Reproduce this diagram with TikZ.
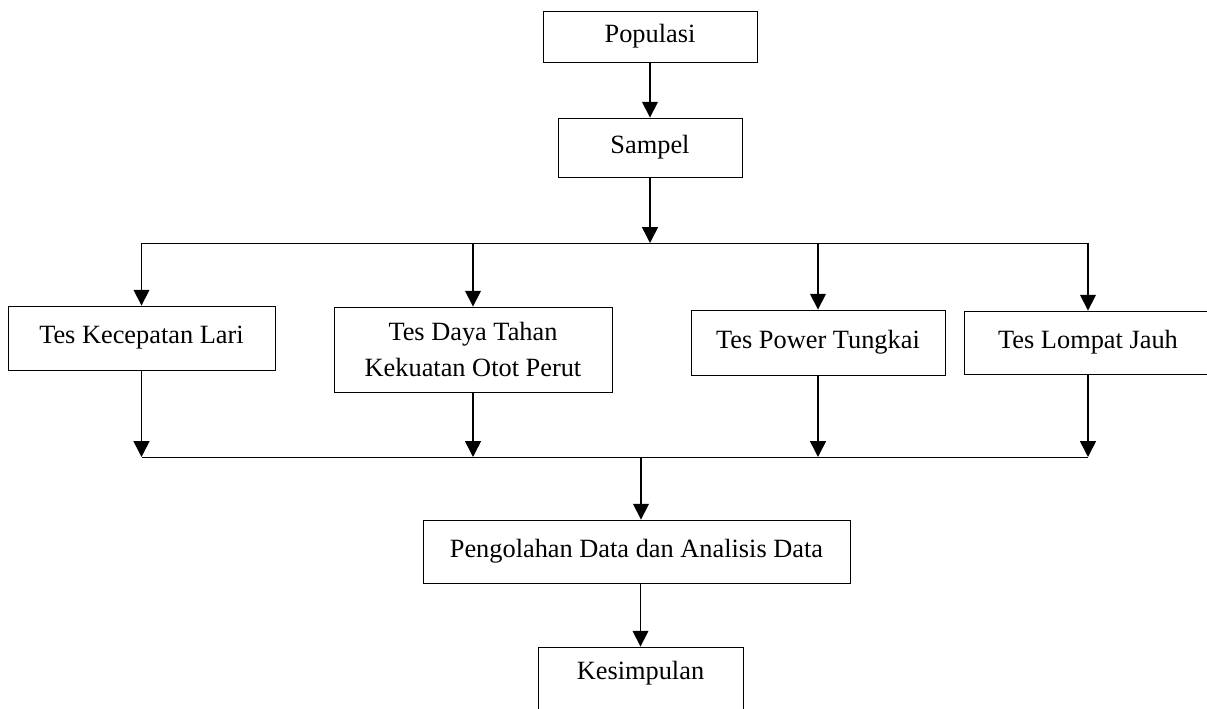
\documentclass[tikz,border=0pt]{standalone}
\usepackage{fontspec}
\setmainfont{Liberation Serif}
\usetikzlibrary{arrows.meta}
\tikzset{
  box/.style={draw, line width=0.5pt, align=center, inner sep=0pt, font=\fontsize{15}{20}\selectfont},
  flow/.style={-{Triangle[width=9pt,length=9pt]}, line width=0.9pt},
  bus/.style={line width=0.5pt}
}

\begin{document}
\begin{tikzpicture}[x=0.02cm, y=-0.02cm]
  \useasboundingbox (0,0) rectangle (1207,709);
  \clip (0,0) rectangle (1207,709);
  % boxes
  \node[box, minimum width=4.28cm, minimum height=1.02cm] (pop) at (650,36.5) {Populasi};
  \node[box, minimum width=3.68cm, minimum height=1.18cm] (sampel) at (650,147.5) {Sampel};
  \node[box, minimum width=5.34cm, minimum height=1.28cm] (lari) at (141.5,338) {Tes Kecepatan Lari};
  \node[box, minimum width=5.56cm, minimum height=1.70cm] (daya) at (473,349.5) {Tes Daya Tahan\\Kekuatan Otot Perut};
  \node[box, minimum width=5.08cm, minimum height=1.30cm] (power) at (818,342.5) {Tes Power Tungkai};
  \node[box, minimum width=4.96cm, minimum height=1.26cm] (lompat) at (1088,342.5) {Tes Lompat Jauh};
  \node[box, minimum width=8.54cm, minimum height=1.26cm] (olah) at (636.5,551.5) {Pengolahan Data dan Analisis Data};
  \node[box, minimum width=4.10cm, minimum height=1.44cm, text depth=0.5cm] (simpul) at (640.5,683) {Kesimpulan};
  % top branch
  \coordinate (split) at (650,243);
  \draw[flow] (pop) -- (sampel);
  \draw[flow] (sampel) -- (split);
  \draw[bus] (lari.north |- split) -- (lompat.north |- split);
  \foreach \t in {lari,daya,power,lompat}
    \draw[flow] (\t.north |- split) -- (\t.north);
  % bottom branch
  \coordinate (join) at (641,457);
  \draw[bus] (lari.south |- join) -- (lompat.south |- join);
  \foreach \t in {lari,daya,power,lompat}
    \draw[flow] (\t.south) -- (\t.south |- join);
  \draw[flow] (join) -- (join |- olah.north);
  \draw[flow] (olah.south -| simpul) -- (simpul);
\end{tikzpicture}
\end{document}
